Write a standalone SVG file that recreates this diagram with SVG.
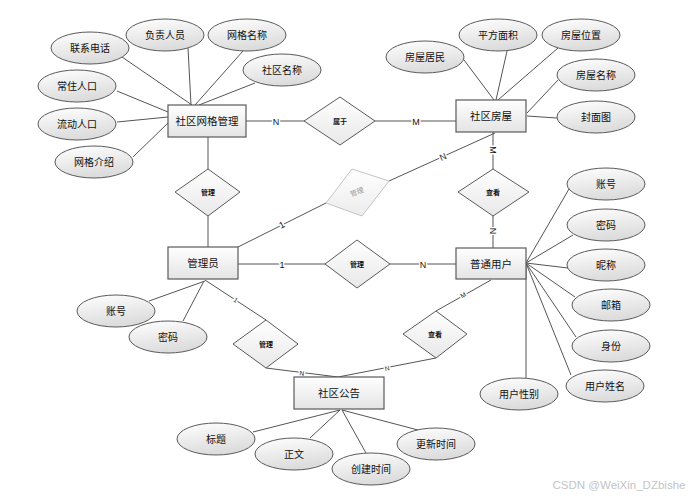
<svg xmlns="http://www.w3.org/2000/svg" width="696" height="498" viewBox="0 0 696 498">
<defs>
<linearGradient id="gRect" x1="0" y1="0" x2="0" y2="1">
<stop offset="0" stop-color="#ffffff"/><stop offset="1" stop-color="#e4e4e4"/>
</linearGradient>
<linearGradient id="gEll" x1="0" y1="0" x2="0.3" y2="1">
<stop offset="0" stop-color="#ffffff"/><stop offset="1" stop-color="#dcdcdc"/>
</linearGradient>
<linearGradient id="gDia" x1="0" y1="0" x2="0" y2="1">
<stop offset="0" stop-color="#ffffff"/><stop offset="1" stop-color="#e8e8e8"/>
</linearGradient>
<linearGradient id="gGrey" x1="0" y1="0" x2="0" y2="1">
<stop offset="0" stop-color="#ffffff"/><stop offset="1" stop-color="#ececec"/>
</linearGradient>
</defs>
<style>
text{font-family:"Liberation Sans","Noto Sans CJK SC",sans-serif;text-anchor:middle;fill:#111}
.ent rect{fill:url(#gRect);stroke:#5a5a5a;stroke-width:1.2}
.ent text{font-size:10.5px}
.att ellipse{fill:url(#gEll);stroke:#5a5a5a;stroke-width:1}
.att text{font-size:10px}
.rel polygon{fill:url(#gDia);stroke:#5a5a5a;stroke-width:1}
.rel text{font-size:7px;font-weight:bold}
#connectors path{fill:none;stroke:#555;stroke-width:1}
.card{font-size:9px;paint-order:stroke;stroke:#fff;stroke-width:3px;stroke-linejoin:round}
.cs{font-size:6.5px}
</style>
<rect width="696" height="498" fill="#fff"/>
<g id="connectors">
<path d="M246,121 L304,121"/><path d="M375,121 L456,121"/>
<path d="M208,137 L208,169"/><path d="M208,216 L208,247"/>
<path d="M238,247 L326,203"/><path d="M389,181 L495,133"/>
<path d="M493,132 L493,169"/><path d="M493,216 L493,248"/>
<path d="M238,264 L325,264"/><path d="M390,264 L456,264"/>
<path d="M205,280 L266,320"/><path d="M266,368 L338,377"/>
<path d="M491,280 L436,311"/><path d="M436,358 L338,377"/>
<path d="M122,57 L192,105"/><path d="M188,48 L191,105"/><path d="M243,51 L195,105"/><path d="M255,83 L199,105"/>
<path d="M117,91 L168,112"/><path d="M117,122 L168,117"/><path d="M133,157 L168,123"/>
<path d="M464,60 L494,100"/><path d="M507,51 L496,100"/><path d="M558,48 L498,100"/><path d="M558,80 L527,113"/><path d="M557,118 L527,116"/>
<path d="M149,301 L205,281"/><path d="M183,321 L204,281"/>
<path d="M253,432 L340,410"/><path d="M310,438 L340,410"/><path d="M366,453 L342,410"/><path d="M418,430 L342,410"/>
<path d="M569,189 L526,263"/><path d="M573,235 L526,263"/><path d="M568,268 L526,263"/><path d="M575,297 L526,263"/><path d="M576,337 L526,263"/><path d="M571,375 L526,263"/><path d="M526,263 L526,378"/>
<text class="card" x="276" y="124.5">N</text>
<text class="card" x="416" y="124.5">M</text>
<text class="card" x="282" y="228" transform="rotate(-27 282 225)">1</text>
<text class="card" x="443" y="160" transform="rotate(-24 443 157)">N</text>
<text class="card" x="493" y="153.5" transform="rotate(90 493 150)">M</text>
<text class="card" x="493" y="234.5" transform="rotate(90 493 231)">N</text>
<text class="card" x="282" y="267.5">1</text>
<text class="card" x="423" y="267.5">N</text>
<text class="card cs" x="236" y="302.5" transform="rotate(33 236 300)">1</text>
<text class="card cs" x="302" y="375.5" transform="rotate(7 302 373)">N</text>
<text class="card cs" x="463" y="297.5" transform="rotate(-30 463 295)">M</text>
<text class="card cs" x="387" y="370.5" transform="rotate(-11 387 368)">N</text>
</g>
<g id="e_grid" class="ent"><rect x="168" y="105" width="78" height="32"/><text x="207" y="125">社区网格管理</text></g>
<g id="e_house" class="ent"><rect x="456" y="100" width="70" height="32"/><text x="491" y="120">社区房屋</text></g>
<g id="e_admin" class="ent"><rect x="168" y="247" width="70" height="32"/><text x="203" y="267">管理员</text></g>
<g id="e_user" class="ent"><rect x="456" y="248" width="70" height="31"/><text x="491" y="268">普通用户</text></g>
<g id="e_notice" class="ent"><rect x="294" y="377" width="90" height="32"/><text x="339" y="397">社区公告</text></g>
<g id="r_belong" class="rel"><polygon points="304,121 340,97 375,121 340,145"/><text x="340" y="123.5">属于</text></g>
<g id="r_manage1" class="rel"><polygon points="175,192 208,169 240,192 208,216"/><text x="208" y="194.5">管理</text></g>
<g id="r_manage_grey"><polygon points="326,203 352,169 389,181 362,216" fill="url(#gGrey)" stroke="#c4c4c4" stroke-width="1"/><text x="357" y="194.5" font-size="7px" style="fill:#9a9a9a" transform="rotate(-20 357 192)">管理</text></g>
<g id="r_view1" class="rel"><polygon points="458,192 493,169 529,192 493,216"/><text x="493" y="194.5">查看</text></g>
<g id="r_manage2" class="rel"><polygon points="325,264 357,240 390,264 357,288"/><text x="357" y="266.5">管理</text></g>
<g id="r_manage3" class="rel"><polygon points="233,344 266,320 298,344 266,368"/><text x="266" y="346.5">管理</text></g>
<g id="r_view2" class="rel"><polygon points="403,334 436,311 467,334 436,358"/><text x="435" y="336.5">查看</text></g>
<g id="a_phone" class="att"><ellipse cx="90" cy="48" rx="39" ry="16"/><text x="90" y="52">联系电话</text></g>
<g id="a_person" class="att"><ellipse cx="165" cy="35" rx="39" ry="16"/><text x="165" y="39">负责人员</text></g>
<g id="a_gridname" class="att"><ellipse cx="247" cy="35" rx="39" ry="16"/><text x="247" y="39">网格名称</text></g>
<g id="a_commname" class="att"><ellipse cx="282" cy="70" rx="39" ry="16"/><text x="282" y="74">社区名称</text></g>
<g id="a_resident" class="att"><ellipse cx="77" cy="86" rx="39" ry="16"/><text x="77" y="90">常住人口</text></g>
<g id="a_float" class="att"><ellipse cx="77" cy="124" rx="39" ry="16"/><text x="77" y="128">流动人口</text></g>
<g id="a_intro" class="att"><ellipse cx="94" cy="162" rx="39" ry="16"/><text x="94" y="166">网格介绍</text></g>
<g id="a_hres" class="att"><ellipse cx="425" cy="57" rx="39" ry="16"/><text x="425" y="61">房屋居民</text></g>
<g id="a_area" class="att"><ellipse cx="498" cy="35" rx="39" ry="16"/><text x="498" y="39">平方面积</text></g>
<g id="a_loc" class="att"><ellipse cx="581" cy="35" rx="39" ry="16"/><text x="581" y="39">房屋位置</text></g>
<g id="a_hname" class="att"><ellipse cx="596" cy="75" rx="39" ry="16"/><text x="596" y="79">房屋名称</text></g>
<g id="a_cover" class="att"><ellipse cx="596" cy="117" rx="39" ry="16"/><text x="596" y="121">封面图</text></g>
<g id="a_aacc" class="att"><ellipse cx="116" cy="311" rx="39" ry="16"/><text x="116" y="315">账号</text></g>
<g id="a_apwd" class="att"><ellipse cx="168" cy="337" rx="39" ry="16"/><text x="168" y="341">密码</text></g>
<g id="a_title" class="att"><ellipse cx="216" cy="439" rx="39" ry="16"/><text x="216" y="443">标题</text></g>
<g id="a_body" class="att"><ellipse cx="294" cy="454" rx="39" ry="16"/><text x="294" y="458">正文</text></g>
<g id="a_ctime" class="att"><ellipse cx="371" cy="469" rx="39" ry="16"/><text x="371" y="473">创建时间</text></g>
<g id="a_utime" class="att"><ellipse cx="436" cy="444" rx="39" ry="16"/><text x="436" y="448">更新时间</text></g>
<g id="a_uacc" class="att"><ellipse cx="606" cy="184" rx="39" ry="16"/><text x="606" y="188">账号</text></g>
<g id="a_upwd" class="att"><ellipse cx="606" cy="225" rx="39" ry="16"/><text x="606" y="229">密码</text></g>
<g id="a_nick" class="att"><ellipse cx="606" cy="265" rx="39" ry="16"/><text x="606" y="269">昵称</text></g>
<g id="a_mail" class="att"><ellipse cx="611" cy="305" rx="39" ry="16"/><text x="611" y="309">邮箱</text></g>
<g id="a_role" class="att"><ellipse cx="611" cy="346" rx="39" ry="16"/><text x="611" y="350">身份</text></g>
<g id="a_uname" class="att"><ellipse cx="605" cy="386" rx="39" ry="16"/><text x="605" y="390">用户姓名</text></g>
<g id="a_gender" class="att"><ellipse cx="519" cy="394" rx="39" ry="16"/><text x="519" y="398">用户性别</text></g>
<text x="619" y="489" font-size="11.5px" style="fill:#c4c4c4">CSDN @WeiXin_DZbishe</text>
</svg>
